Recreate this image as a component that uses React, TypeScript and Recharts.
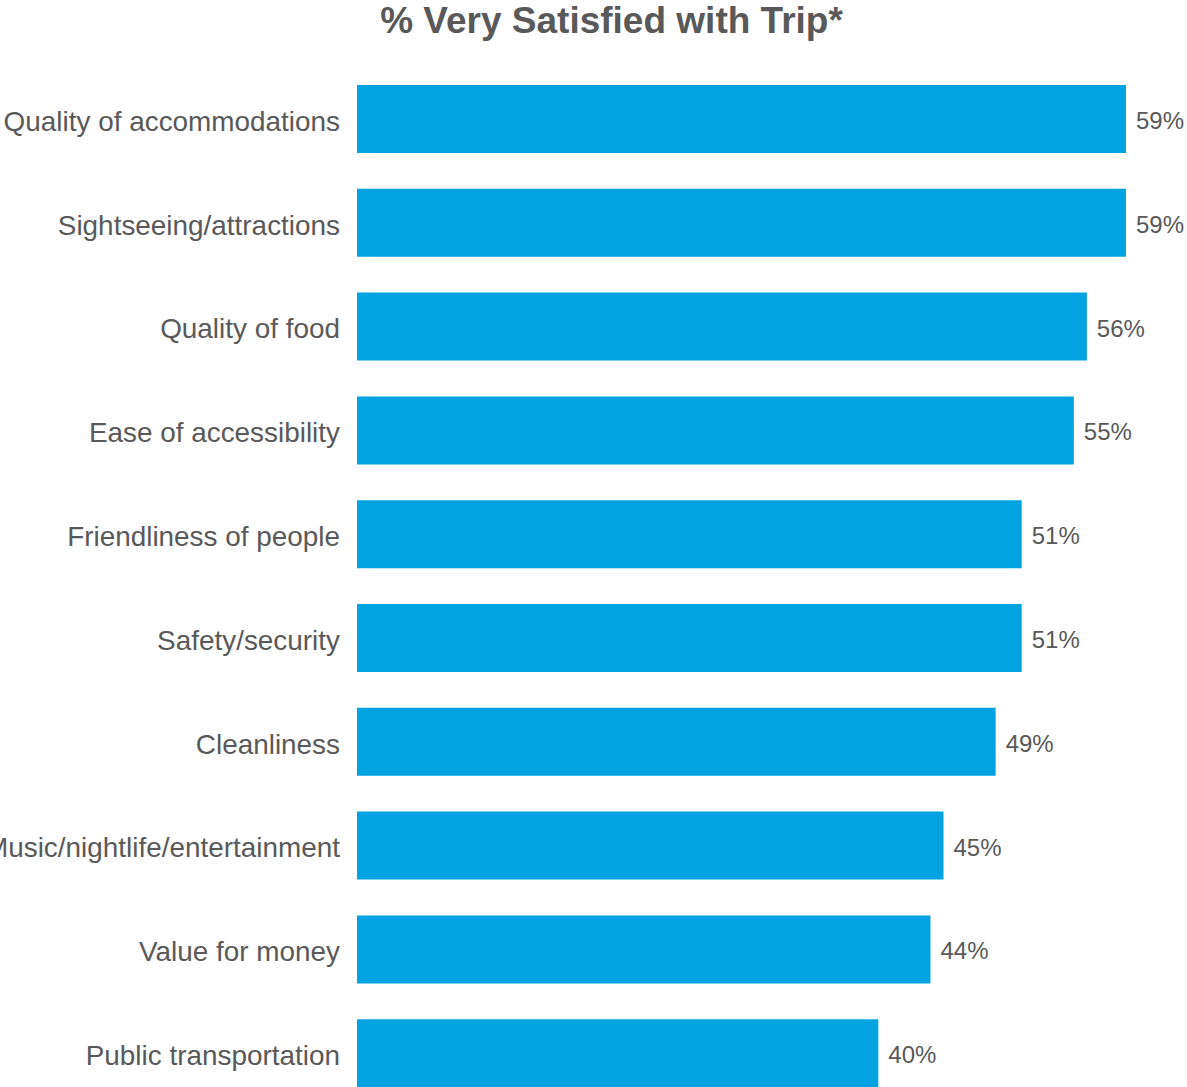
import { BarChart, Bar, XAxis, YAxis, LabelList } from "recharts";

const categories = [
  "Quality of accommodations",
  "Sightseeing/attractions",
  "Quality of food",
  "Ease of accessibility",
  "Friendliness of people",
  "Safety/security",
  "Cleanliness",
  "Music/nightlife/entertainment",
  "Value for money",
  "Public transportation",
];

const satisfied = [59, 59, 56, 55, 51, 51, 49, 45, 44, 40];

const title = "% Very Satisfied with Trip*";

const FONT = '"Liberation Sans", Arial, Helvetica, sans-serif';
const TEXT = "#595959";
const BAR = "#03A2E0";

const chartData = categories.map((name, i) => ({ name, value: satisfied[i] }));

export default function App() {
  return (
    <div style={{ position: "absolute", left: 0, top: 0, width: 1187, height: 1105, fontFamily: FONT }}>
      <div
        style={{
          position: "absolute",
          left: 0,
          top: 2,
          width: 1223,
          textAlign: "center",
          fontSize: 37,
          lineHeight: "37px",
          fontWeight: 700,
          color: TEXT,
        }}
      >
        {title}
      </div>
      <BarChart
        width={1187}
        height={1105}
        data={chartData}
        layout="vertical"
        margin={{ top: 67, right: 48, bottom: 0, left: 0 }}
        barSize={68}
      >
        <XAxis type="number" domain={[0, 60]} hide />
        <YAxis
          type="category"
          dataKey="name"
          width={357}
          axisLine={false}
          tickLine={false}
          tickMargin={11}
          interval={0}
          tick={{ fontSize: 27.9, fill: TEXT, fontFamily: FONT, dy: 2 }}
        />
        <Bar dataKey="value" fill={BAR} isAnimationActive={false}>
          <LabelList
            dataKey="value"
            position="right"
            offset={10}
            dy={1.5}
            formatter={(v: any) => `${v}%`}
            style={{ fontSize: 24, fill: TEXT, fontFamily: FONT }}
          />
        </Bar>
      </BarChart>
    </div>
  );
}
